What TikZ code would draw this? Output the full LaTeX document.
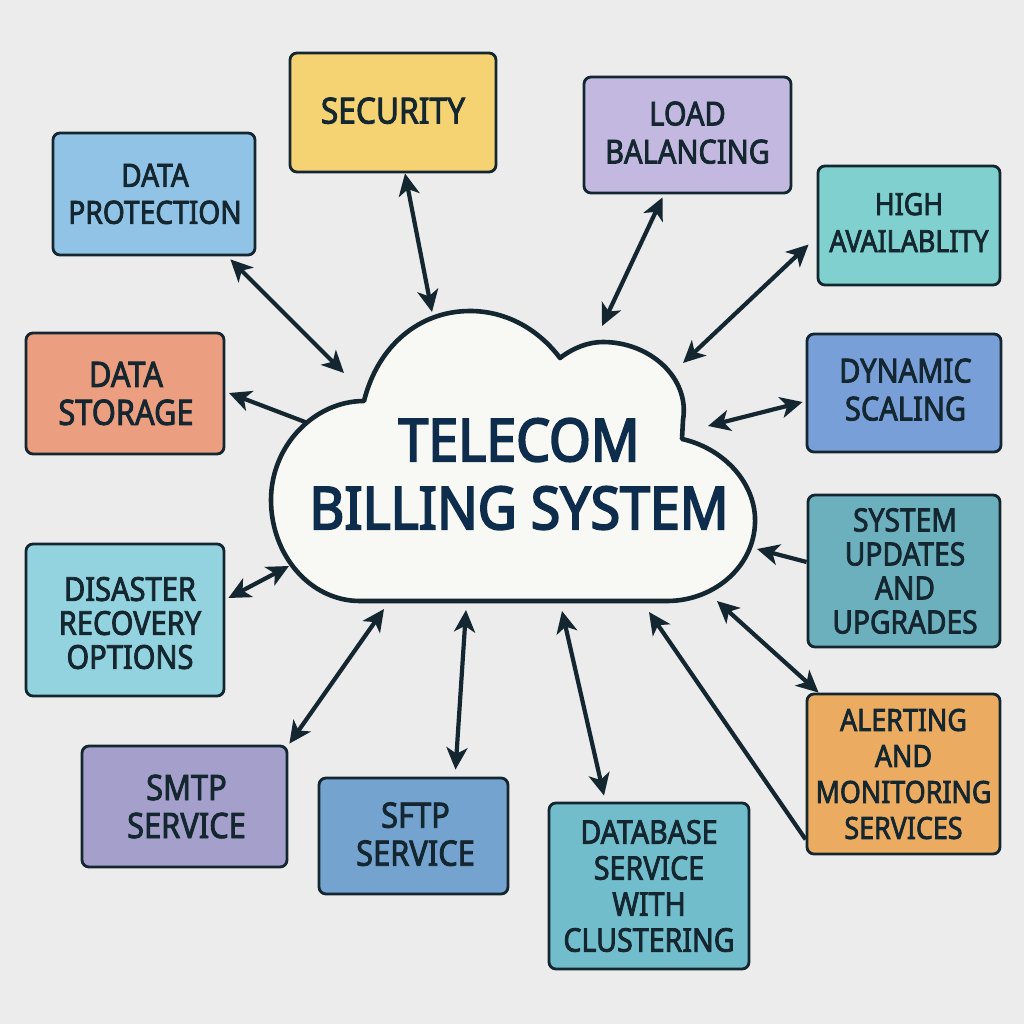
\documentclass[tikz,border=0pt]{standalone}
\usepackage{fontspec}
\setmainfont{Noto Sans}
\newfontfamily\titlefont[FakeStretch=0.91,FakeBold=3.2]{Noto Sans}
\newfontfamily\boxfont[FakeStretch=0.88,FakeBold=2.4]{Noto Sans}
\usetikzlibrary{arrows.meta,calc}
\definecolor{bgc}{HTML}{ECECEC}
\definecolor{ink}{HTML}{14262F}
\definecolor{titleink}{HTML}{0E2D4C}
\definecolor{cloudc}{HTML}{F8F8F4}
\tikzset{
 box/.style={draw=ink,line width=2.8pt,rounded corners=7pt,align=center,inner sep=0pt,text=ink},
 tipd/.tip={Stealth[length=22pt,width=21pt,inset=6pt]},
 both/.style={draw=ink,line width=4.2pt,tipd-tipd},
 single/.style={draw=ink,line width=4.2pt,-tipd},
 sty sec/.style={text depth=4pt},
 sty load/.style={text depth=5pt},
 sty high/.style={text depth=6pt},
 sty dyn/.style={text depth=7pt},
 sty sftp/.style={text depth=4pt},
 sty dis/.style={text height=98pt},
}
\newcommand{\bx}[9]{\definecolor{c#1}{HTML}{#6}\node[box,sty #1/.try,fill=c#1,minimum width={(#4-#2)*1pt},minimum height={(#5-#3)*1pt},font=\boxfont\fontsize{#8}{#9}\selectfont] (#1) at ({(#2+#4)/2},{(#3+#5)/2}) {#7};}
\newcommand{\sh}[1]{\hspace*{#1}}
\begin{document}
\begin{tikzpicture}[x=1pt,y=-1pt]
\fill[bgc] (0,0) rectangle (1024,1024);
\useasboundingbox (0,0) rectangle (1024,1024);
\draw[draw=ink,fill=cloudc,line width=4.6pt,line join=round]
 (364,401) .. controls (378,345) and (420,311) .. (470,311)
 .. controls (507,311) and (539,330) .. (560,358)
 .. controls (573,348) and (588,342) .. (603,342)
 .. controls (650,342) and (690,378) .. (683,420)
 -- (682,439)
 .. controls (722,448) and (753,480) .. (755,517)
 .. controls (757,565) and (715,601) .. (667,601)
 -- (360,601)
 .. controls (310,601) and (271,555) .. (271,500)
 .. controls (271,445) and (315,401) .. (364,401) -- cycle;
\node[font=\titlefont\fontsize{59}{68}\selectfont,text=titleink,align=center] (title) at (519,474) {TELECOM\\BILLING SYSTEM};
\coordinate (kSec) at (432,312);
\coordinate (kLoad) at (602,326);
\coordinate (kHigh) at (683,363);
\coordinate (kDyn) at (708,426);
\coordinate (kSys) at (757,549);
\coordinate (kAl) at (717,601);
\coordinate (kAlb) at (649,612);
\coordinate (kDb) at (562,611);
\coordinate (kSftp) at (466,610);
\coordinate (kSmtp) at (384,609);
\coordinate (kDis) at (289,566);
\coordinate (kSto) at (229,393);
\coordinate (kPro) at (344,373);
\bx{sec}{290}{53}{496}{172}{F5D372}{SECURITY}{36}{38}
\bx{load}{584}{77}{791}{193}{C3B9E0}{LOAD\\BALANCING}{33}{38}
\bx{high}{818}{166}{1000}{285}{7FD0CE}{HIGH\\AVAILABLITY}{30.5}{37}
\bx{dyn}{807}{334}{1001}{452}{789FD8}{\sh{3pt}DYNAMIC\\\sh{3pt}SCALING}{33}{38}
\bx{sys}{808}{495}{1000}{647}{6CB0BE}{\sh{2pt}SYSTEM\\\sh{2pt}UPDATES\\\sh{2pt}AND\\\sh{2pt}UPGRADES}{32}{34}
\bx{al}{807}{694}{1000}{854}{EBAC62}{ALERTING\\AND\\MONITORING\\SERVICES}{30.5}{36}
\bx{db}{549}{803}{749}{969}{72BDCB}{DATABASE\\SERVICE\\WITH\\CLUSTERING}{32.5}{36}
\bx{sftp}{319}{778}{508}{894}{74A3CF}{\sh{4pt}SFTP\\\sh{4pt}SERVICE}{35}{38}
\bx{smtp}{82}{746}{287}{867}{A49FCB}{\sh{4pt}SMTP\\\sh{4pt}SERVICE}{35}{38}
\bx{dis}{26}{544}{224}{696}{93D3DF}{\sh{10pt}DISASTER\\\sh{10pt}RECOVERY\\\sh{10pt}OPTIONS}{33}{34}
\bx{sto}{26}{333}{224}{454}{EC9E80}{\sh{2pt}DATA\\\sh{2pt}STORAGE}{35}{38}
\bx{pro}{53}{133}{255}{255}{90C3E5}{\sh{2pt}DATA\\\sh{2pt}PROTECTION}{32}{37}
\draw[both] ($(sec.south)+(12,0)$) -- (kSec);
\draw[both] ($(load.south)+(-25,3)$) -- (kLoad);
\draw[both] ($(high.west)+(-8,19)$) -- (kHigh);
\draw[both] ($(dyn.west)+(-3,9)$) -- (kDyn);
\draw[single] ($(sys.west)+(0,-9)$) -- (kSys);
\draw[both] ($(al.north west)+(13,0)$) -- (kAl);
\draw[single] ($(al.south west)+(0,-16)$) -- (kAlb);
\draw[both] ($(db.north)+(-45,-6)$) -- (kDb);
\draw[both] ($(sftp.north)+(42,-7)$) -- (kSftp);
\draw[both] ($(smtp.north east)+(1,-1)$) -- (kSmtp);
\draw[both] ($(dis.east)+(3,-22)$) -- (kDis);
\draw[single] ($(sto.east)+(81,29)$) -- (kSto);
\draw[both] ($(pro.south east)+(-26,3)$) -- (kPro);
\end{tikzpicture}
\end{document}
